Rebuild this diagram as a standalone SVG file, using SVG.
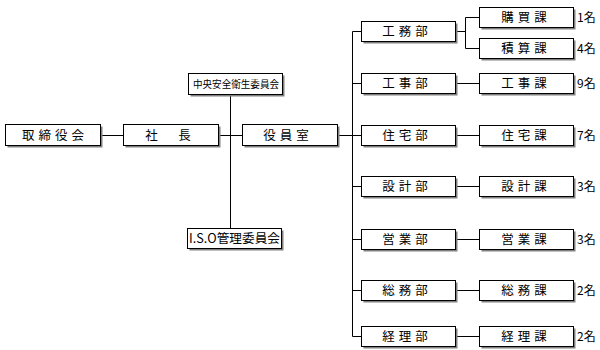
<svg xmlns="http://www.w3.org/2000/svg" width="600" height="350" viewBox="0 0 600 350">
<style>
.box{fill:#fff;stroke:#000;stroke-width:1}
.sh{fill:#808080}
.ln{fill:none;stroke:#000;stroke-width:1}
text{font-family:"Noto Sans CJK JP","Noto Sans CJK SC",sans-serif;fill:#000;font-size:12.5px}
.t{text-anchor:middle;letter-spacing:4px}
.c{font-size:12px}
</style>
<rect width="600" height="350" fill="#fff"/>
<g id="connectors">
<path class="ln" d="M100.5 135.5H123.5M218.5 135.5H242.5M230.5 94.5V228.5M337.5 135.5H352.5"/>
<path class="ln" d="M352.5 31.5V336.5M352.5 31.5H361.5M352.5 83.5H361.5M352.5 135.5H361.5M352.5 186.5H361.5M352.5 239.5H361.5M352.5 290.5H361.5M352.5 336.5H361.5"/>
<path class="ln" d="M455.5 31.5H465.5M465.5 17.5V48.5M465.5 17.5H479.5M465.5 48.5H479.5"/>
<path class="ln" d="M455.5 83.5H479.5M455.5 135.5H479.5M455.5 186.5H479.5M455.5 239.5H479.5M455.5 290.5H479.5M455.5 336.5H479.5"/>
</g>
<g id="n-torishimariyakukai"><rect class="sh" x="7.5" y="126.5" width="95" height="21"/><rect class="box" x="5.5" y="124.5" width="95" height="21"/><text class="t" x="55" y="140">取締役会</text></g>
<g id="n-shacho"><rect class="sh" x="125.5" y="126.5" width="95" height="21"/><rect class="box" x="123.5" y="124.5" width="95" height="21"/><text class="t" x="170" y="140">社　長</text></g>
<g id="n-yakuinshitsu"><rect class="sh" x="244.5" y="126.5" width="95" height="21"/><rect class="box" x="242.5" y="124.5" width="95" height="21"/><text class="t" x="288" y="140">役員室</text></g>
<g id="n-chuo"><rect class="sh" x="190.5" y="75.5" width="94" height="21"/><rect class="box" x="188.5" y="73.5" width="94" height="21"/><text x="193" y="88" style="font-size:10px" textLength="86" lengthAdjust="spacingAndGlyphs">中央安全衛生委員会</text></g>
<g id="n-iso"><rect class="sh" x="189.5" y="230.5" width="94" height="20"/><rect class="box" x="187.5" y="228.5" width="94" height="20"/><text x="189" y="243" style="font-size:12.5px" textLength="91" lengthAdjust="spacingAndGlyphs">I.S.O管理委員会</text></g>

<g id="n-koumubu"><rect class="sh" x="363.5" y="23.5" width="94" height="20"/><rect class="box" x="361.5" y="21.5" width="94" height="20"/><text class="t" x="407" y="36">工務部</text></g>
<g id="n-koujibu"><rect class="sh" x="363.5" y="75.5" width="94" height="20"/><rect class="box" x="361.5" y="73.5" width="94" height="20"/><text class="t" x="407" y="88">工事部</text></g>
<g id="n-juutakubu"><rect class="sh" x="363.5" y="127.5" width="94" height="20"/><rect class="box" x="361.5" y="125.5" width="94" height="20"/><text class="t" x="407" y="140">住宅部</text></g>
<g id="n-sekkeibu"><rect class="sh" x="363.5" y="178.5" width="94" height="20"/><rect class="box" x="361.5" y="176.5" width="94" height="20"/><text class="t" x="407" y="191">設計部</text></g>
<g id="n-eigyoubu"><rect class="sh" x="363.5" y="231.5" width="94" height="20"/><rect class="box" x="361.5" y="229.5" width="94" height="20"/><text class="t" x="407" y="244">営業部</text></g>
<g id="n-soumubu"><rect class="sh" x="363.5" y="282.5" width="94" height="20"/><rect class="box" x="361.5" y="280.5" width="94" height="20"/><text class="t" x="407" y="295">総務部</text></g>
<g id="n-keiribu"><rect class="sh" x="363.5" y="328.5" width="94" height="20"/><rect class="box" x="361.5" y="326.5" width="94" height="20"/><text class="t" x="407" y="341">経理部</text></g>

<g id="n-koubaika"><rect class="sh" x="481.5" y="9.5" width="94" height="20"/><rect class="box" x="479.5" y="7.5" width="94" height="20"/><text class="t" x="526" y="22">購買課</text><text class="c" x="577" y="22">1名</text></g>
<g id="n-sekisanka"><rect class="sh" x="481.5" y="40.5" width="94" height="20"/><rect class="box" x="479.5" y="38.5" width="94" height="20"/><text class="t" x="526" y="53">積算課</text><text class="c" x="577" y="53">4名</text></g>
<g id="n-koujika"><rect class="sh" x="481.5" y="75.5" width="94" height="20"/><rect class="box" x="479.5" y="73.5" width="94" height="20"/><text class="t" x="526" y="88">工事課</text><text class="c" x="577" y="88">9名</text></g>
<g id="n-juutakuka"><rect class="sh" x="481.5" y="127.5" width="94" height="20"/><rect class="box" x="479.5" y="125.5" width="94" height="20"/><text class="t" x="526" y="140">住宅課</text><text class="c" x="577" y="140">7名</text></g>
<g id="n-sekkeika"><rect class="sh" x="481.5" y="178.5" width="94" height="20"/><rect class="box" x="479.5" y="176.5" width="94" height="20"/><text class="t" x="526" y="191">設計課</text><text class="c" x="577" y="191">3名</text></g>
<g id="n-eigyouka"><rect class="sh" x="481.5" y="231.5" width="94" height="20"/><rect class="box" x="479.5" y="229.5" width="94" height="20"/><text class="t" x="526" y="244">営業課</text><text class="c" x="577" y="244">3名</text></g>
<g id="n-soumuka"><rect class="sh" x="481.5" y="282.5" width="94" height="20"/><rect class="box" x="479.5" y="280.5" width="94" height="20"/><text class="t" x="526" y="295">総務課</text><text class="c" x="577" y="295">2名</text></g>
<g id="n-keirika"><rect class="sh" x="481.5" y="328.5" width="94" height="20"/><rect class="box" x="479.5" y="326.5" width="94" height="20"/><text class="t" x="526" y="341">経理課</text><text class="c" x="577" y="341">2名</text></g>
</svg>
